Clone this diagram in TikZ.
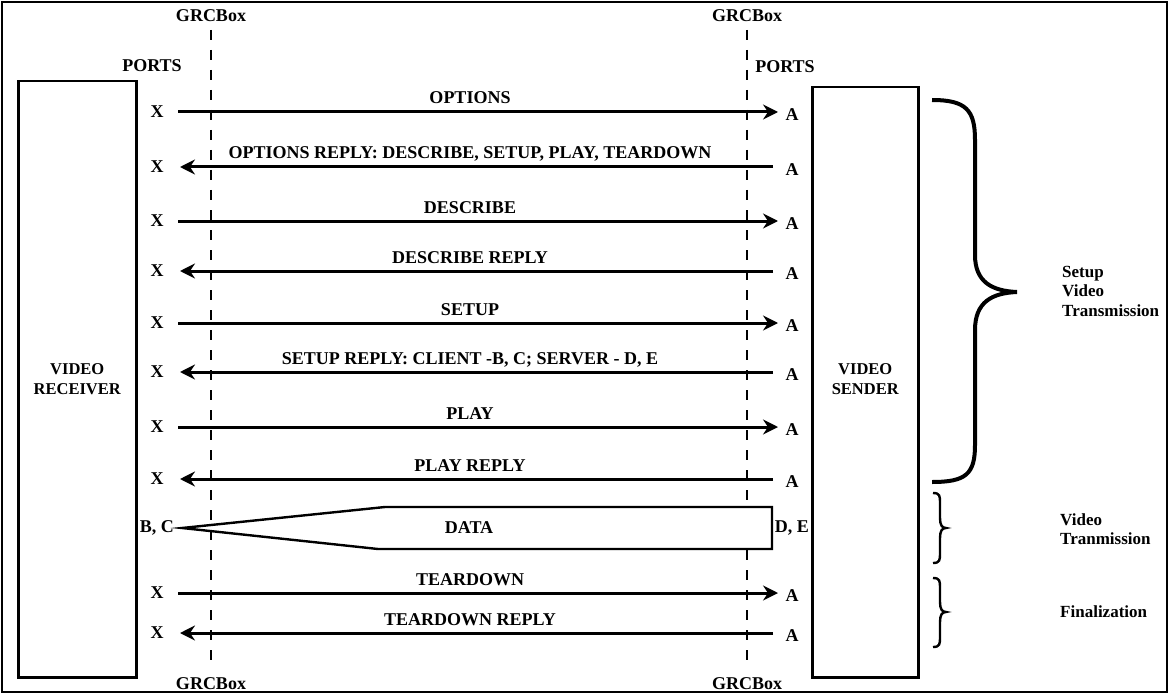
\documentclass[tikz,border=0pt]{standalone}
\usepackage{fontspec}
\setmainfont{Liberation Serif}
\usetikzlibrary{arrows.meta}
\begin{document}
\begin{tikzpicture}[x=1pt,y=-1pt,
  lbl/.style={font=\fontsize{18}{20}\selectfont\bfseries, inner sep=0pt},
  boxlbl/.style={font=\fontsize{16.5}{20}\selectfont\bfseries, inner sep=0pt, align=center},
  side/.style={font=\fontsize{17}{19.5}\selectfont\bfseries, inner sep=0pt, align=left, anchor=west},
  msg/.style={line width=3pt, -{Stealth[length=15pt,width=15pt,inset=5pt]}},
  life/.style={line width=1.8pt, dash pattern=on 10pt off 10pt},
  box/.style={draw, line width=2.5pt},
  brc/.style={line width=2.4pt}]
\useasboundingbox (0,0) rectangle (1169,695);
\draw[line width=2.5pt] (2,2) rectangle (1167,692);

% GRCBox lifelines
\node[lbl] (g1t) at (211,16) {GRCBox};
\node[lbl] (g1b) at (211,684) {GRCBox};
\node[lbl] (g2t) at (747,16) {GRCBox};
\node[lbl] (g2b) at (747,684) {GRCBox};
\draw[life] (211,30) -- (211,664);
\draw[life] (747,30) -- (747,664);

% ports
\node[lbl] (p1) at (152,66) {PORTS};
\node[lbl] (p2) at (785,67) {PORTS};

% end boxes
\node[box, minimum width=118pt, minimum height=596pt, anchor=north west] (recv) at (17,80) {};
\node[boxlbl] (recvt) at (recv.center) {VIDEO\\RECEIVER};
\node[box, minimum width=106pt, minimum height=590pt, anchor=north west] (send) at (811,86) {};
\node[boxlbl] (sendt) at ([yshift=3pt]send.center) {VIDEO\\SENDER};

% messages
\foreach \i/\y/\d/\t in {
  1/112/r/OPTIONS,
  2/167/l/{OPTIONS REPLY: DESCRIBE, SETUP, PLAY, TEARDOWN},
  3/221/r/DESCRIBE,
  4/271/l/DESCRIBE REPLY,
  5/323/r/SETUP,
  6/372/l/{SETUP REPLY: CLIENT -B, C; SERVER - D, E},
  7/427/r/PLAY,
  8/479/l/PLAY REPLY,
  9/593/r/TEARDOWN,
  10/633/l/TEARDOWN REPLY}{
  \node[lbl] (x\i) at (157,\y) {X};
  \node[lbl] (a\i) at (792,\y+3) {A};
  \node[lbl, anchor=base] (m\i) at (470,\y-8) {\t};
  \if r\d
    \coordinate (ls\i) at (178,\y);
    \coordinate (re\i) at (778,\y);
    \draw[msg] (ls\i) -- (re\i);
  \else
    \coordinate (ls\i) at (180,\y);
    \coordinate (re\i) at (773,\y);
    \draw[msg] (re\i) -- (ls\i);
  \fi
}

% data
\node[lbl, anchor=east] (bc) at (174,528) {B, C};
\node[lbl, anchor=east] (de) at (809,528) {D, E};
\coordinate (tip) at (182,528);
\draw[line width=2.4pt, fill=white] (tip) -- (385,507) -- (772,507) -- (772,549) -- (378,549) -- cycle;
\node[lbl] (data) at (469,528) {DATA};

% big brace
\draw[line width=4pt] (932,100) .. controls (966,100) and (975,110) .. (975,140)
  -- (975,255) .. controls (975,282) and (992,291) .. (1017,292)
  .. controls (992,293) and (975,302) .. (975,330)
  -- (975,445) .. controls (975,474) and (966,482) .. (932,482);
\node[side] (s1) at (1062,291) {Setup\\Video\\Transmission};

% small braces
\draw[brc] (933,493) .. controls (940,493) and (940,496) .. (940,503)
  -- (940,518) .. controls (940,525) and (942,528) .. (946,528)
  .. controls (942,528) and (940,531) .. (940,538)
  -- (940,553) .. controls (940,560) and (940,563) .. (933,563);
\node[side] (s2) at (1060,529) {Video\\Tranmission};
\draw[brc] (933,578) .. controls (940,578) and (940,581) .. (940,588)
  -- (940,602) .. controls (940,609) and (942,612) .. (946,612)
  .. controls (942,612) and (940,615) .. (940,622)
  -- (940,637) .. controls (940,644) and (940,647) .. (933,647);
\node[side] (s3) at (1060,612) {Finalization};
\end{tikzpicture}
\end{document}
